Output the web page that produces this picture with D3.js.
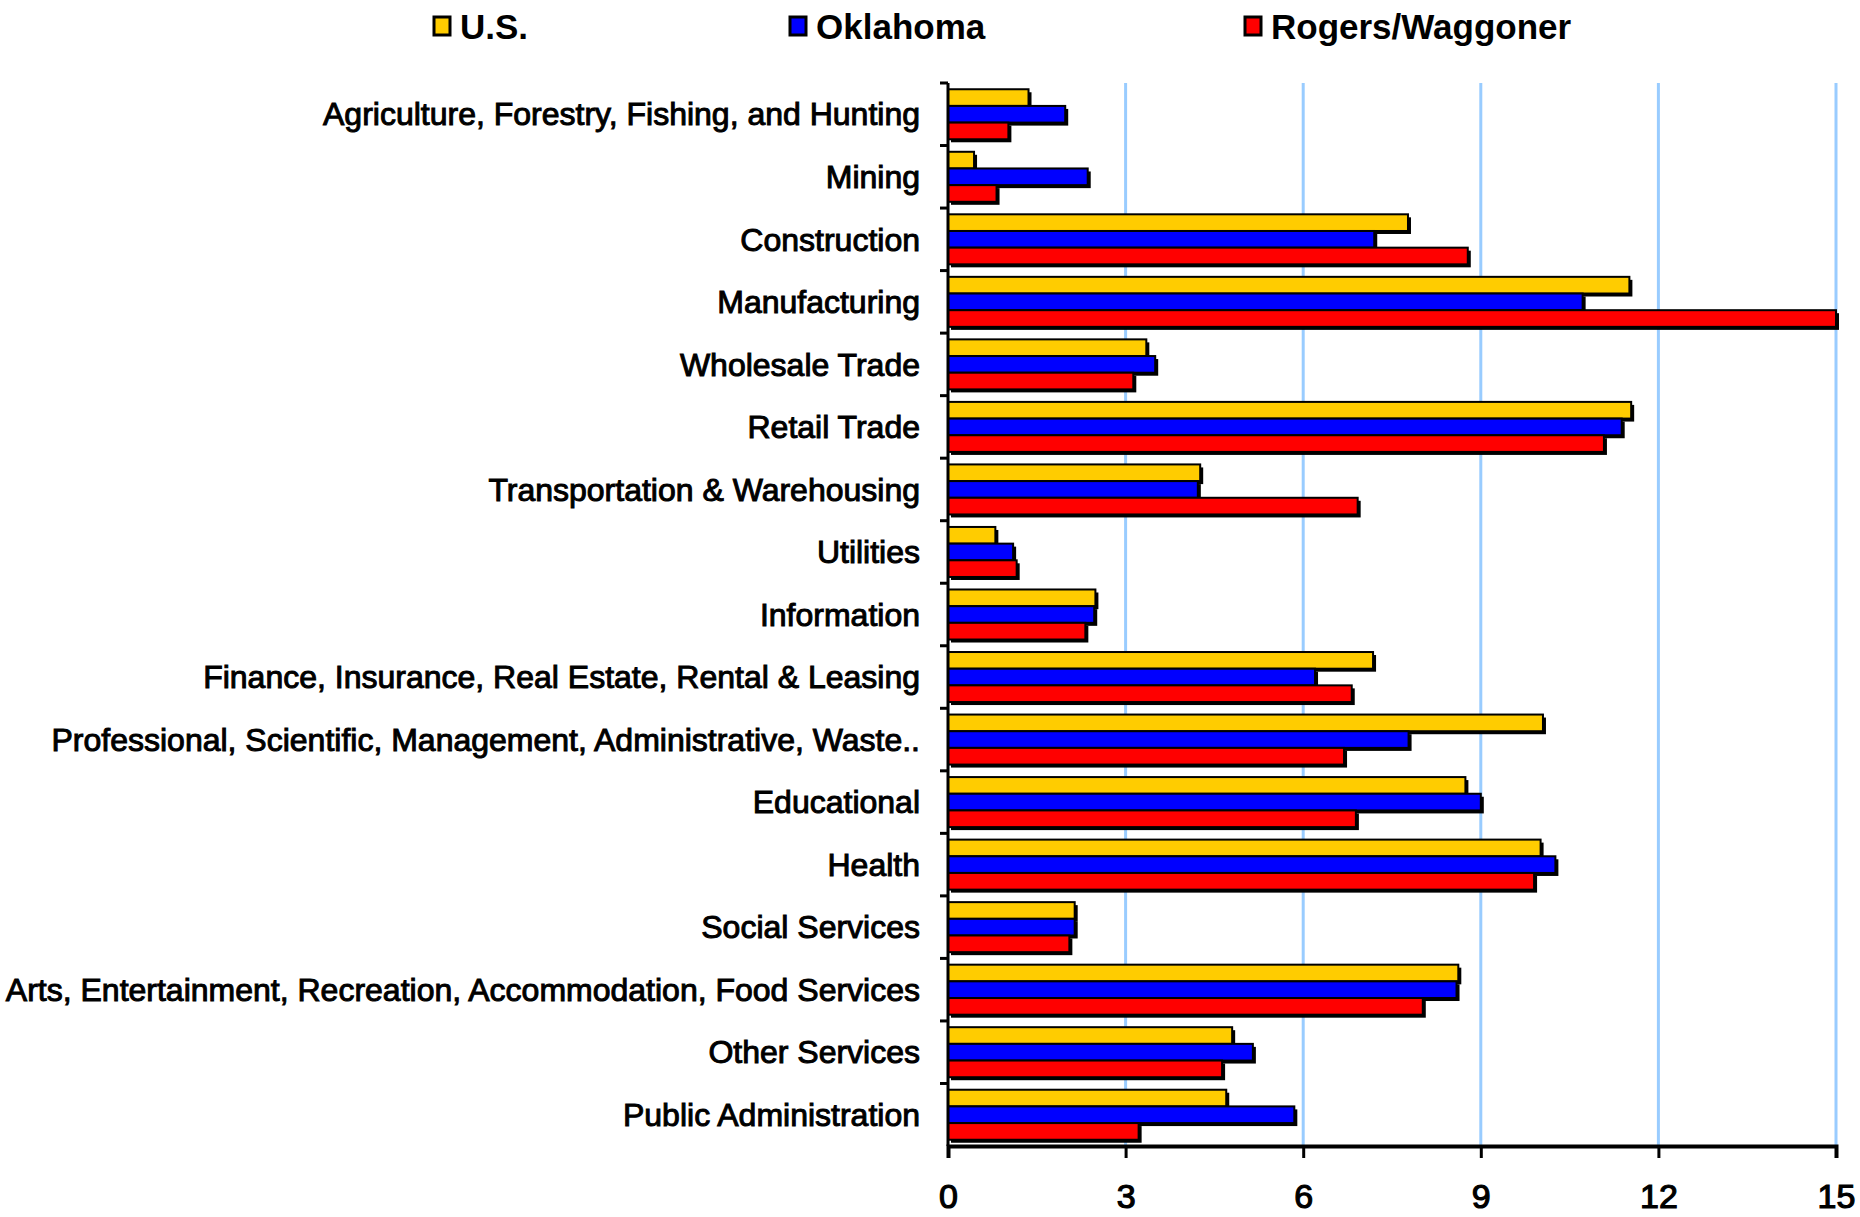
<!DOCTYPE html>
<html>
<head>
<meta charset="utf-8">
<script src="https://cdn.jsdelivr.net/npm/d3@7"></script>
<style>
  body { margin: 0; background: #fff; }
  svg text { font-family: "Liberation Sans", Arial, sans-serif; fill: #000; }
</style>
</head>
<body>
<svg id="chart" width="1860" height="1217"></svg>
<script>
const categories = [
  "Agriculture, Forestry, Fishing, and Hunting",
  "Mining",
  "Construction",
  "Manufacturing",
  "Wholesale Trade",
  "Retail Trade",
  "Transportation & Warehousing",
  "Utilities",
  "Information",
  "Finance, Insurance, Real Estate, Rental & Leasing",
  "Professional, Scientific, Management, Administrative, Waste..",
  "Educational",
  "Health",
  "Social Services",
  "Arts, Entertainment, Recreation, Accommodation, Food Services",
  "Other Services",
  "Public Administration"
];
const seriesNames = ["U.S.", "Oklahoma", "Rogers/Waggoner"];
const seriesColors = ["#FFCC00", "#0000FF", "#FF0000"];
const usValues = [1.36, 0.44, 7.77, 11.51, 3.35, 11.54, 4.26, 0.80, 2.49, 7.18, 10.05, 8.74, 10.01, 2.14, 8.62, 4.80, 4.70];
const okValues = [1.98, 2.36, 7.20, 10.72, 3.50, 11.38, 4.22, 1.10, 2.47, 6.20, 7.78, 9.00, 10.26, 2.14, 8.59, 5.15, 5.85];
const rwValues = [1.02, 0.82, 8.78, 15.2, 3.13, 11.08, 6.92, 1.16, 2.32, 6.82, 6.69, 6.89, 9.90, 2.05, 8.02, 4.63, 3.22];
const xTicks = [0, 3, 6, 9, 12, 15];

const svg = d3.select("#chart");
const margin = {top: 83, right: 24, bottom: 71, left: 948};
const width = +svg.attr("width") - margin.left - margin.right;
const height = +svg.attr("height") - margin.top - margin.bottom;
const g = svg.append("g").attr("transform", `translate(${margin.left}, ${margin.top})`);

const x = d3.scaleLinear().domain([0, 15]).range([0, width]).clamp(true);
const y = d3.scaleBand().domain(categories).range([0, height]).paddingInner(0.2).paddingOuter(0.1);
const ySub = d3.scaleBand().domain(seriesNames).range([0, y.bandwidth()]);

const data = categories.map((c, i) => ({
  cat: c,
  vals: [usValues[i], okValues[i], rwValues[i]].map((v, j) => ({name: seriesNames[j], color: seriesColors[j], v: v}))
}));

// gridlines
g.append("g")
  .selectAll("line")
  .data(xTicks.slice(1))
  .join("line")
    .attr("x1", d => x(d)).attr("x2", d => x(d))
    .attr("y1", 0).attr("y2", height)
    .attr("stroke", "#99CCFF")
    .attr("stroke-width", 3);

// bars, with a drop shadow underneath
const groups = g.append("g").selectAll("g")
  .data(data)
  .join("g")
    .attr("transform", d => `translate(0, ${y(d.cat)})`);

groups.selectAll("rect.shadow")
  .data(d => d.vals)
  .join("rect")
    .attr("class", "shadow")
    .attr("x", 3)
    .attr("y", d => ySub(d.name) + 3)
    .attr("width", d => x(d.v))
    .attr("height", ySub.bandwidth())
    .attr("fill", "#000");

groups.selectAll("rect.bar")
  .data(d => d.vals)
  .join("rect")
    .attr("class", "bar")
    .attr("x", 0)
    .attr("y", d => ySub(d.name))
    .attr("width", d => x(d.v))
    .attr("height", ySub.bandwidth())
    .attr("fill", d => d.color)
    .attr("stroke", "#000")
    .attr("stroke-width", 2);

// y axis: line, boundary ticks, labels
g.append("line")
  .attr("x1", 0).attr("x2", 0)
  .attr("y1", 0).attr("y2", height)
  .attr("stroke", "#000").attr("stroke-width", 3);

g.append("g")
  .selectAll("line")
  .data(d3.range(categories.length))
  .join("line")
    .attr("x1", -8).attr("x2", 0)
    .attr("y1", i => i * y.step()).attr("y2", i => i * y.step())
    .attr("stroke", "#000").attr("stroke-width", 3);

g.append("g")
  .selectAll("text")
  .data(categories)
  .join("text")
    .attr("x", -28)
    .attr("y", d => y(d) + y.bandwidth() / 2)
    .attr("dy", "0.35em")
    .attr("text-anchor", "end")
    .style("font-size", "32px")
    .style("stroke", "#000")
    .style("stroke-width", "1px")
    .text(d => d);

// x axis
const xAxis = g.append("g")
  .attr("transform", `translate(0, ${height})`)
  .call(d3.axisBottom(x).tickValues(xTicks).tickSize(12).tickPadding(26));
xAxis.select(".domain").attr("stroke", "#000").attr("stroke-width", 4);
xAxis.selectAll(".tick line").attr("stroke", "#000").attr("stroke-width", 3);
xAxis.selectAll(".tick text")
  .style("font-size", "34px")
  .style("font-family", "\"Liberation Sans\", Arial, sans-serif")
  .style("stroke", "#000")
  .style("stroke-width", "1.2px");

// legend
const legendX = [434, 790, 1245];
const legend = svg.append("g").selectAll("g")
  .data(seriesNames)
  .join("g")
    .attr("transform", (d, i) => `translate(${legendX[i]}, 17)`);
legend.append("rect")
  .attr("width", 16).attr("height", 18)
  .attr("fill", (d, i) => seriesColors[i])
  .attr("stroke", "#000").attr("stroke-width", 3);
legend.append("text")
  .attr("x", 26).attr("y", 10)
  .attr("dy", "0.35em")
  .style("font-size", "35px")
  .style("font-weight", "bold")
  .text(d => d);
</script>
</body>
</html>
